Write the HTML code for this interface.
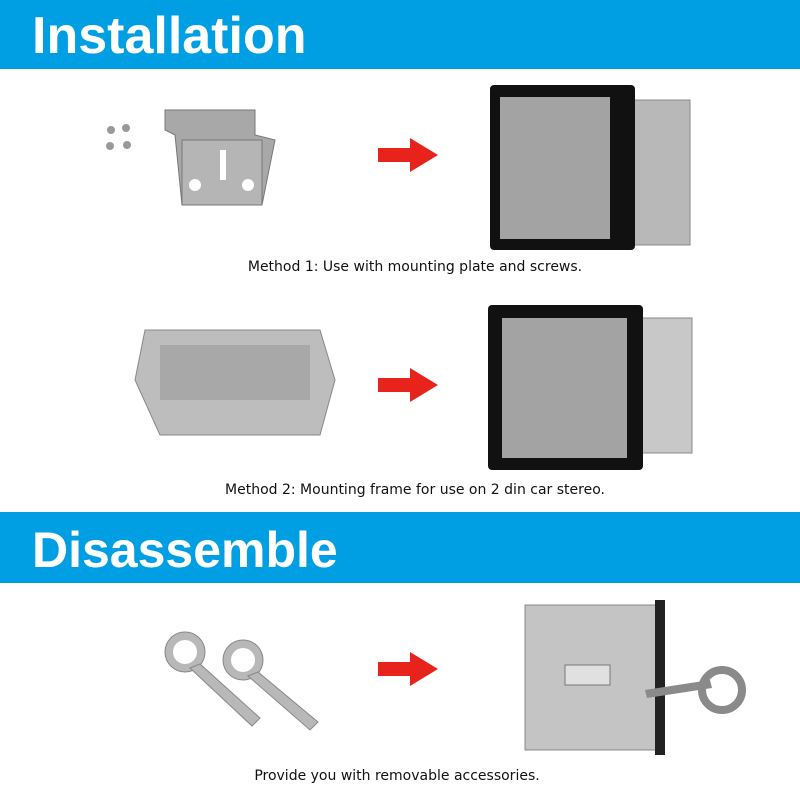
<!DOCTYPE html>
<html><head><style>
body{margin:0;width:800px;height:800px;background:#fff;position:relative;overflow:hidden;font-family:"Liberation Sans",sans-serif}
.band{position:absolute;left:0;width:800px;background:#009fe3;color:#fff;font-weight:bold;font-size:50px;box-sizing:border-box;padding-left:32px}
.cap{position:absolute;left:0;width:800px;text-align:center;font-family:"DejaVu Sans",sans-serif;font-size:14px;color:#111}
.a{position:absolute}
</style></head><body>
<div class="band" style="top:0;height:69px;line-height:72px;font-size:52px">Installation</div>
<div class="band" style="top:512px;height:71px;line-height:76px">Disassemble</div>
<div class="cap" style="top:259px;left:15px">Method 1: Use with mounting plate and screws.</div>
<div class="cap" style="top:482px;left:15px">Method 2: Mounting frame for use on 2 din car stereo.</div>
<div class="cap" style="top:768px;left:-3px">Provide you with removable accessories.</div>
<svg class="a" style="left:0;top:0" width="800" height="800">
<g fill="#e8231c">
<polygon points="378,148 410,148 410,138 438,155 410,172 410,162 378,162"/>
<polygon points="378,378 410,378 410,368 438,385 410,402 410,392 378,392"/>
<polygon points="378,662 410,662 410,652 438,669 410,686 410,676 378,676"/>
</g>
<g fill="#999"><circle cx="111" cy="130" r="4"/><circle cx="126" cy="128" r="4"/><circle cx="110" cy="146" r="4"/><circle cx="127" cy="145" r="4"/></g>
<polygon points="165,110 255,110 255,135 275,140 262,205 182,205 175,135 165,130" fill="#a8a8a8" stroke="#777"/>
<rect x="182" y="140" width="80" height="65" fill="#b5b5b5" stroke="#777"/>
<g fill="#fff"><circle cx="195" cy="185" r="6"/><circle cx="248" cy="185" r="6"/><rect x="220" y="150" width="6" height="30"/></g>
<rect x="615" y="100" width="75" height="145" fill="#b8b8b8" stroke="#888"/>
<rect x="490" y="85" width="145" height="165" rx="4" fill="#111"/>
<rect x="500" y="97" width="110" height="142" fill="#a3a3a3"/>
<polygon points="145,330 320,330 335,380 320,435 160,435 135,380" fill="#bdbdbd" stroke="#888"/>
<rect x="160" y="345" width="150" height="55" fill="#a8a8a8"/>
<rect x="630" y="318" width="62" height="135" fill="#c8c8c8" stroke="#888"/>
<rect x="488" y="305" width="155" height="165" rx="4" fill="#111"/>
<rect x="502" y="318" width="125" height="140" fill="#a3a3a3"/>
<g fill="#b8b8b8" stroke="#888">
<circle cx="185" cy="652" r="20"/><polygon points="190,668 200,664 260,718 252,726"/>
<circle cx="243" cy="660" r="20"/><polygon points="248,676 258,672 318,722 310,730"/>
</g>
<circle cx="185" cy="652" r="12" fill="#fff"/><circle cx="243" cy="660" r="12" fill="#fff"/>
<rect x="525" y="605" width="135" height="145" fill="#c4c4c4" stroke="#888"/>
<rect x="655" y="600" width="10" height="155" fill="#222"/>
<rect x="565" y="665" width="45" height="20" fill="#e0e0e0" stroke="#777"/>
<polygon points="645,690 710,680 712,688 647,698" fill="#8a8a8a"/>
<circle cx="722" cy="690" r="20" fill="none" stroke="#8a8a8a" stroke-width="8"/>
</svg>
</body></html>
